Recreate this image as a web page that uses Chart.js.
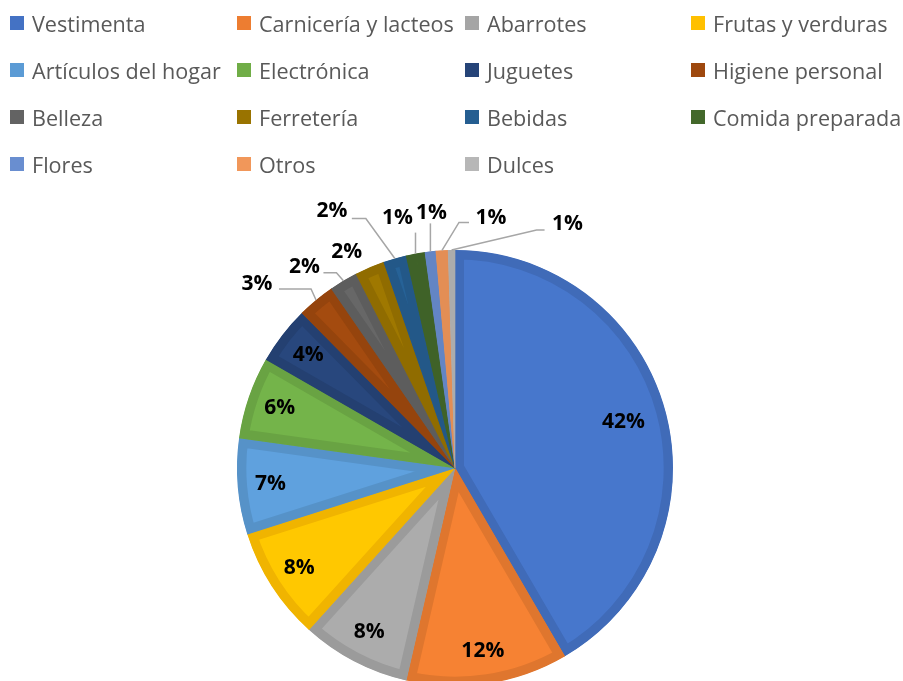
<!DOCTYPE html>
<html>
<head>
<meta charset="utf-8">
<script src="https://cdn.jsdelivr.net/npm/chart.js@4.4.1/dist/chart.umd.min.js"></script>
<style>
    html, body { margin: 0; padding: 0; background: #fff; overflow: hidden; }
    #wrap { position: relative; width: 903px; height: 681px; overflow: hidden; }
    #pieChart { position: absolute; left: 0; top: 0; }
    #legend { position: absolute; left: 0; top: 0; width: 903px; height: 190px; }
    .lg-item { position: absolute; display: flex; align-items: center; font-family: 'Open Sans', sans-serif; font-size: 21.6px; color: #595959; white-space: nowrap; }
    .lg-box { width: 14px; height: 14px; margin-right: 8px; }
</style>
</head>
<body>
<div id="wrap">
    <canvas id="pieChart" width="903" height="720"></canvas>
    <div id="legend"></div>
</div>
<script>
// categorías del gráfico
const CATEGORIES = [
    'Vestimenta', 'Carnicería y lacteos', 'Abarrotes', 'Frutas y verduras',
    'Artículos del hogar', 'Electrónica', 'Juguetes', 'Higiene personal',
    'Belleza', 'Ferretería', 'Bebidas', 'Comida preparada',
    'Flores', 'Otros', 'Dulces'
];

// porcentaje de cada categoría
const VALUES = [41.6, 12.0, 8.1, 8.4, 7.1, 6.1, 4.3, 2.8, 2.1, 2.2, 1.7, 1.4, 0.8, 0.9, 0.5];

// colores (paleta Office)
const COLORS = [
    '#4472C4', '#ED7D31', '#A5A5A5', '#FFC000',
    '#5B9BD5', '#70AD47', '#264478', '#9E480E',
    '#636363', '#997300', '#255E91', '#43682B',
    '#698ED0', '#F1975A', '#B7B7B7'
];

const LABEL_FONT = "bold 21px 'Open Sans', sans-serif";
const LINE_COLOR = '#A6A6A6';

// posición de etiquetas externas, relativa al punto medio del arco
// line: puntos desde la etiqueta hasta el arco
const OUTSIDE_LABELS = {
    'Higiene personal': { dx: -59, dy: -16, line: [[-37, -11], [-5, -11]] },
    'Belleza':          { dx: -39, dy: -14, line: [[-20, -8], [-7, -8]] },
    'Ferretería':       { dx: -23, dy: -15, line: null },
    'Bebidas':          { dx: -63, dy: -47, line: [[-43, -40], [-29, -40]] },
    'Comida preparada': { dx: -18, dy: -36, line: [[0, -21]] },
    'Flores':           { dx: 1, dy: -38, line: [[0, -28]] },
    'Otros':            { dx: 49, dy: -32, line: [[27, -28], [17, -28]] },
    'Dulces':           { dx: 116, dy: -26, line: [[93, -20], [85, -20]] }
};

// columnas y filas de la leyenda
const LEGEND_COLS = [10, 237, 465, 691];
const LEGEND_ROWS = [16, 63, 110, 157];

function shade(hex, f) {
    const r = Math.round(parseInt(hex.slice(1, 3), 16) * f);
    const g = Math.round(parseInt(hex.slice(3, 5), 16) * f);
    const b = Math.round(parseInt(hex.slice(5, 7), 16) * f);
    return `rgb(${Math.min(r, 255)}, ${Math.min(g, 255)}, ${Math.min(b, 255)})`;
}

function buildLegend() {
    const box = document.getElementById('legend');
    CATEGORIES.forEach((name, i) => {
        const item = document.createElement('div');
        item.className = 'lg-item';
        item.style.left = LEGEND_COLS[i % 4] + 'px';
        item.style.top = (LEGEND_ROWS[Math.floor(i / 4)] - 7) + 'px';
        item.style.height = '28px';
        item.innerHTML = `<span class="lg-box" style="background:${COLORS[i]}"></span><span>${name}</span>`;
        box.appendChild(item);
    });
}

const pieLabels = {
    id: 'pieLabels',
    afterDatasetsDraw(chart) {
        const ctx = chart.ctx;
        const meta = chart.getDatasetMeta(0);
        const total = VALUES.reduce((a, b) => a + b, 0);
        ctx.save();
        ctx.font = LABEL_FONT;
        ctx.fillStyle = '#000';
        ctx.textAlign = 'center';
        ctx.textBaseline = 'middle';
        meta.data.forEach((arc, i) => {
            const p = arc.getProps(['x', 'y', 'startAngle', 'endAngle', 'outerRadius'], true);
            const mid = (p.startAngle + p.endAngle) / 2;
            const pct = Math.round(VALUES[i] / total * 100);
            const text = pct + '%';
            const out = OUTSIDE_LABELS[CATEGORIES[i]];
            if (!out) {
                const k = pct > 30 ? 0.8 : 0.85;
                ctx.fillText(text, p.x + Math.cos(mid) * p.outerRadius * k, p.y + Math.sin(mid) * p.outerRadius * k);
                return;
            }
            const ax = p.x + Math.cos(mid) * p.outerRadius;
            const ay = p.y + Math.sin(mid) * p.outerRadius;
            if (out.line) {
                ctx.beginPath();
                ctx.strokeStyle = LINE_COLOR;
                ctx.lineWidth = 1.5;
                ctx.moveTo(ax + out.line[0][0], ay + out.line[0][1]);
                out.line.slice(1).forEach(pt => ctx.lineTo(ax + pt[0], ay + pt[1]));
                ctx.lineTo(ax, ay);
                ctx.stroke();
            }
            ctx.fillText(text, ax + out.dx, ay + out.dy);
        });
        ctx.restore();
    }
};

function initializePieChart() {
    const ctx = document.getElementById('pieChart');
    new Chart(ctx, {
        type: 'pie',
        data: {
            labels: CATEGORIES,
            datasets: [{
                data: VALUES,
                backgroundColor: COLORS.map(c => shade(c, 1.04)),
                borderColor: COLORS.map(c => shade(c, 0.94)),
                borderWidth: 9,
                borderAlign: 'inner'
            }]
        },
        options: {
            responsive: false,
            animation: false,
            layout: { padding: { left: 237, right: 230, top: 250, bottom: 34 } },
            plugins: {
                legend: { display: false },
                tooltip: { enabled: false }
            }
        },
        plugins: [pieLabels]
    });
}

buildLegend();
initializePieChart();
</script>
</body>
</html>
